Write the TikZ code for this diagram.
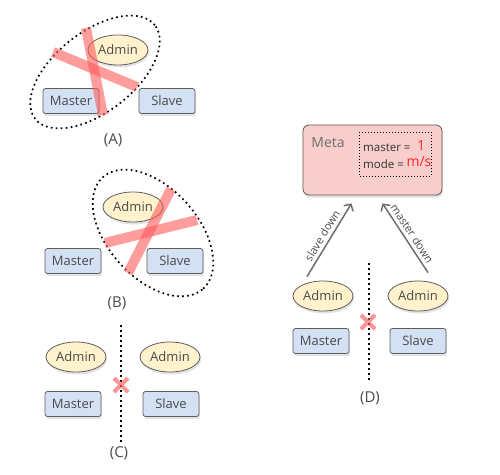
\documentclass[tikz,border=0pt]{standalone}
\usepackage{fontspec}
\setmainfont{Open Sans}
\usetikzlibrary{arrows.meta}
\usetikzlibrary{shapes.geometric}
\usetikzlibrary{shadows}

\definecolor{boxblue}{HTML}{D4E1F5}
\definecolor{admyel}{HTML}{FFF2CC}
\definecolor{metared}{HTML}{F8CECC}
\definecolor{edgegray}{HTML}{5E5E5E}
\definecolor{txtgray}{HTML}{4A4A4A}
\definecolor{crossred}{HTML}{FF5A5A}

\begin{document}
\begin{tikzpicture}[x=1pt,y=-1pt,
  shade/.style={drop shadow={opacity=0.22,shadow xshift=1pt,shadow yshift=-2.5pt}},
  server/.style={draw=edgegray,line width=0.8pt,fill=boxblue,rounded corners=2.5pt,
    minimum width=56pt,minimum height=25pt,inner sep=0pt,text=txtgray,
    font=\fontsize{13}{15}\selectfont,shade},
  admin/.style={ellipse,draw=edgegray,line width=0.8pt,fill=admyel,
    minimum width=60pt,minimum height=30pt,inner sep=0pt,text=txtgray,
    font=\fontsize{13}{15}\selectfont,shade},
  caption/.style={text=txtgray,font=\fontsize{15}{17}\selectfont},
  group/.style={line width=1.7pt,dash pattern=on 1.7pt off 3.3pt},
  split/.style={line width=1.7pt,dash pattern=on 1.7pt off 3.3pt},
  xbar/.style={line width=10pt,crossred,opacity=0.6},
  xmark/.style={line width=4pt,crossred,opacity=0.65},
  updown/.style={-{Straight Barb[length=5pt,width=11pt]},line width=1.5pt,draw=edgegray!90},
  arrlabel/.style={text=txtgray,font=\fontsize{11}{13}\selectfont}]

\useasboundingbox (0,0) rectangle (500,474);

% (A)
\node[admin]  (admA) at (118,50)  {Admin};
\node[server] (mstA) at (71,101)  {Master};
\node[server] (slvA) at (167,101) {Slave};
\node[caption] (capA) at (113,140) {(A)};
\draw[group,rotate around={38:(95,72)}] (95,72) ellipse [x radius=76pt,y radius=40pt];
\draw[xbar] (53,52) -- (137,87);
\draw[xbar] (86,28) -- (103,115);

% (B)
\node[admin]  (admB) at (133,207) {Admin};
\node[server] (mstB) at (73,261)  {Master};
\node[server] (slvB) at (175,261) {Slave};
\node[caption] (capB) at (117,303) {(B)};
\draw[group,rotate around={-48:(153,233)}] (153,233) ellipse [x radius=75pt,y radius=45pt];
\draw[xbar] (105,243) -- (197,220);
\draw[xbar] (171,189) -- (128,273);

% (C)
\node[admin]  (admCl) at (76,357)  {Admin};
\node[admin]  (admCr) at (170,357) {Admin};
\node[server] (mstC)  at (73,404)  {Master};
\node[server] (slvC)  at (171,404) {Slave};
\node[caption] (capC) at (119,453) {(C)};
\draw[split] (121,325) -- (121,442);
\draw[xmark] (114,378) -- (128,392) (114,392) -- (128,378);

% (D)
\node[draw=black!60!metared,line width=0.8pt,fill=metared,rounded corners=6pt,
  minimum width=139pt,minimum height=70pt,shade] (meta) at (372.5,160) {};
\node[text=txtgray!80,font=\fontsize{14}{16}\selectfont] (metaname) at (328,143) {Meta};
\draw[line width=1pt,dash pattern=on 1pt off 2pt] (359,132) rectangle (431,176);
\node[anchor=west,inner sep=0pt,text=black!80,font=\fontsize{11.5}{13}\selectfont] (mstval) at (363,148) {master =};
\node[anchor=west,inner sep=0pt,text=black!80,font=\fontsize{11.5}{13}\selectfont] (modeval) at (363,164) {mode =};
\node[text=red!85,font=\fontsize{14}{16}\selectfont] (one) at (421,145) {1};
\node[text=red!85,font=\fontsize{14}{16}\selectfont] (ms) at (419,162) {m/s};

\node[admin]  (admDl) at (323,296) {Admin};
\node[admin]  (admDr) at (418,296) {Admin};
\node[server] (mstD)  at (321,341) {Master};
\node[server] (slvD)  at (418,341) {Slave};
\node[caption] (capD) at (370,398) {(D)};
\draw[split] (369,263) -- (369,380);
\draw[xmark] (361,315) -- (375,329) (361,329) -- (375,315);

\draw[updown] ([shift={(-16pt,4pt)}]admDl.north) -- ([shift={(-21pt,-8pt)}]meta.south)
  node[midway,above,sloped,arrlabel] {slave down};
\draw[updown] ([shift={(10pt,8pt)}]admDr.north) -- ([shift={(10pt,-8pt)}]meta.south)
  node[midway,above,sloped,arrlabel] {master down};

\end{tikzpicture}
\end{document}
